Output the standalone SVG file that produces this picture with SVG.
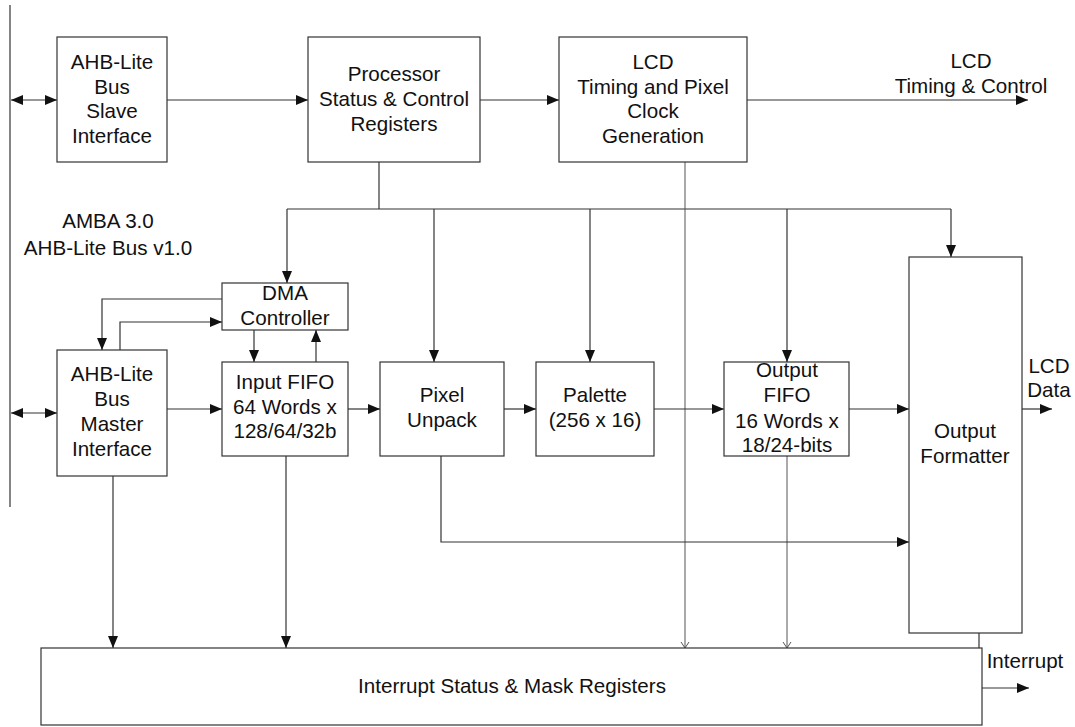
<svg xmlns="http://www.w3.org/2000/svg" width="1075" height="727" viewBox="0 0 1075 727">
<style>
.box{fill:#fff;stroke:#333;stroke-width:1.2}
.ln{fill:none;stroke:#333;stroke-width:1.2}
.ar{fill:none;stroke:#333;stroke-width:1.2;marker-end:url(#ah)}
.ar2{fill:none;stroke:#333;stroke-width:1.2;marker-start:url(#ahs);marker-end:url(#ah)}
.ov{fill:none;stroke:#555;stroke-width:1;marker-end:url(#av)}
text{font-family:"Liberation Sans",Arial,sans-serif;font-size:20.6px;fill:#111;text-anchor:middle}
</style>
<defs>
<marker id="ah" viewBox="0 0 12 10" refX="12" refY="5" markerWidth="12" markerHeight="10" markerUnits="userSpaceOnUse" orient="auto"><path d="M0,0 L12,5 L0,10 z" fill="#111"/></marker>
<marker id="ahs" viewBox="0 0 12 10" refX="0" refY="5" markerWidth="12" markerHeight="10" markerUnits="userSpaceOnUse" orient="auto"><path d="M12,0 L0,5 L12,10 z" fill="#111"/></marker>
<marker id="av" viewBox="0 0 8 10" refX="8" refY="5" markerWidth="8" markerHeight="10" markerUnits="userSpaceOnUse" orient="auto"><path d="M2,1 L8,5 L2,9" fill="none" stroke="#555" stroke-width="1"/></marker>
</defs>

<g id="connectors">
<line class="ln" x1="10" y1="5" x2="10" y2="507"/>
<line class="ar2" x1="11" y1="100" x2="57" y2="100"/>
<line class="ar2" x1="11" y1="413" x2="57" y2="413"/>
<line class="ar" x1="167" y1="100" x2="308" y2="100"/>
<line class="ar" x1="480" y1="100" x2="559" y2="100"/>
<line class="ar" x1="747" y1="100" x2="1028" y2="100"/>
<polyline class="ln" points="379,162 379,209"/>
<line class="ln" x1="287" y1="209" x2="951" y2="209"/>
<line class="ar" x1="287" y1="209" x2="287" y2="283"/>
<line class="ar" x1="434" y1="209" x2="434" y2="362"/>
<line class="ar" x1="590" y1="209" x2="590" y2="362"/>
<line class="ar" x1="787" y1="209" x2="787" y2="362"/>
<line class="ar" x1="951" y1="209" x2="951" y2="257"/>
<line class="ov" x1="685" y1="162" x2="685" y2="648"/>
<line class="ov" x1="787" y1="456" x2="787" y2="648"/>
<polyline class="ar" points="222,299 102,299 102,350"/>
<polyline class="ar" points="120,350 120,322 222,322"/>
<line class="ar" x1="254" y1="330" x2="254" y2="362"/>
<line class="ar" x1="316" y1="362" x2="316" y2="330"/>
<line class="ar" x1="167" y1="409" x2="222" y2="409"/>
<line class="ar" x1="348" y1="409" x2="380" y2="409"/>
<line class="ar" x1="504" y1="409" x2="536" y2="409"/>
<line class="ar" x1="654" y1="409" x2="724" y2="409"/>
<line class="ar" x1="849" y1="409" x2="909" y2="409"/>
<line class="ar" x1="1022" y1="409" x2="1052" y2="409"/>
<polyline class="ar" points="441,456 441,542 909,542"/>
<line class="ar" x1="113" y1="476" x2="113" y2="648"/>
<line class="ar" x1="286" y1="456" x2="286" y2="648"/>
<line class="ln" x1="979" y1="633" x2="979" y2="648"/>
<line class="ar" x1="982" y1="688" x2="1029" y2="688"/>
</g>

<g id="slave">
<rect class="box" x="57" y="37" width="110" height="125"/>
<text x="112" y="69">AHB-Lite</text><text x="112" y="94">Bus</text><text x="112" y="118">Slave</text><text x="112" y="143">Interface</text>
</g>
<g id="processor">
<rect class="box" x="308" y="37" width="172" height="125"/>
<text x="394" y="81">Processor</text><text x="394" y="106">Status &amp; Control</text><text x="394" y="131">Registers</text>
</g>
<g id="lcdtiming">
<rect class="box" x="559" y="37" width="188" height="125"/>
<text x="653" y="69">LCD</text><text x="653" y="94">Timing and Pixel</text><text x="653" y="118">Clock</text><text x="653" y="143">Generation</text>
</g>
<g id="lcdtc-label">
<text x="971" y="68">LCD</text><text x="971" y="93">Timing &amp; Control</text>
</g>
<g id="amba">
<text x="108" y="228">AMBA 3.0</text><text x="108" y="255">AHB-Lite Bus v1.0</text>
</g>
<g id="dma">
<rect class="box" x="222" y="283" width="126" height="47"/>
<text x="285" y="300">DMA</text><text x="285" y="325">Controller</text>
</g>
<g id="master">
<rect class="box" x="57" y="350" width="110" height="126"/>
<text x="112" y="381">AHB-Lite</text><text x="112" y="406">Bus</text><text x="112" y="431">Master</text><text x="112" y="456">Interface</text>
</g>
<g id="inputfifo">
<rect class="box" x="222" y="362" width="126" height="94"/>
<text x="285" y="389">Input FIFO</text><text x="285" y="414">64 Words x</text><text x="285" y="438">128/64/32b</text>
</g>
<g id="pixelunpack">
<rect class="box" x="380" y="362" width="124" height="94"/>
<text x="442" y="402">Pixel</text><text x="442" y="427">Unpack</text>
</g>
<g id="palette">
<rect class="box" x="536" y="362" width="118" height="94"/>
<text x="595" y="402">Palette</text><text x="595" y="427">(256 x 16)</text>
</g>
<g id="outputfifo">
<rect class="box" x="724" y="362" width="125" height="94"/>
<text x="787" y="377">Output</text><text x="787" y="402">FIFO</text><text x="787" y="428">16 Words x</text><text x="787" y="452">18/24-bits</text>
</g>
<g id="formatter">
<rect class="box" x="909" y="257" width="113" height="376"/>
<text x="965" y="438">Output</text><text x="965" y="463">Formatter</text>
</g>
<g id="lcddata-label">
<text x="1049" y="373">LCD</text><text x="1049" y="397">Data</text>
</g>
<g id="interrupt">
<rect class="box" x="41" y="648" width="941" height="77"/>
<text x="512" y="693">Interrupt Status &amp; Mask Registers</text>
</g>
<g id="interrupt-label">
<text x="1025" y="668">Interrupt</text>
</g>
</svg>
